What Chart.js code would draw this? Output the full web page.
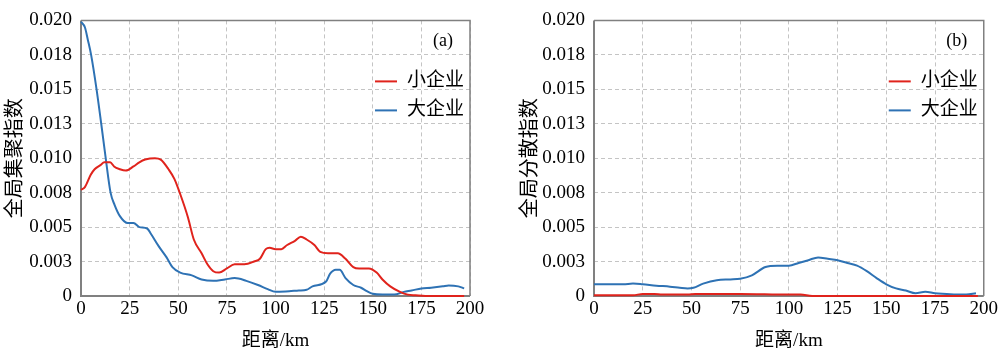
<!DOCTYPE html>
<html>
<head>
<meta charset="utf-8">
<script src="https://cdn.jsdelivr.net/npm/chart.js@4.4.1/dist/chart.umd.min.js"></script>
<style>
  html, body { margin: 0; padding: 0; background: #fff; }
  .row { display: flex; width: 1000px; height: 352px; }
  canvas { display: block; }
</style>
</head>
<body>
<div class="row">
  <canvas id="chartA" width="500" height="352"></canvas>
  <canvas id="chartB" width="500" height="352"></canvas>
</div>
<script>
// (a) agglomeration index
const aggSmallDist = [0, 2, 5, 7, 10, 12, 15, 17, 20, 23, 27, 30, 33, 38, 41, 45, 48, 51, 55, 58, 62, 65, 68, 71, 75, 79, 84, 89, 92, 95, 97, 100, 103, 106, 110, 113, 116, 120, 123, 127, 132, 136, 140, 143, 148, 152, 155, 159, 164, 168, 172, 177, 185, 197];
const aggSmall = [0.0077, 0.0079, 0.0088, 0.0092, 0.0095, 0.0097, 0.0097, 0.0094, 0.0092, 0.0091, 0.0094, 0.0097, 0.0099, 0.0100, 0.0099, 0.0092, 0.0085, 0.0074, 0.0057, 0.0041, 0.0031, 0.0023, 0.0018, 0.0017, 0.0020, 0.0023, 0.0023, 0.0025, 0.0027, 0.0034, 0.0035, 0.0034, 0.0034, 0.0037, 0.0040, 0.0043, 0.0041, 0.0037, 0.0032, 0.0031, 0.0031, 0.0027, 0.0021, 0.0020, 0.0020, 0.0017, 0.0012, 0.0007, 0.0003, 0.0001, 0.00005, 0, 0, 0];
const aggLargeDist = [0, 2, 3.5, 5.2, 8, 10.4, 12.7, 15.2, 17.3, 20, 24, 27, 30, 34, 36, 40, 44, 47, 51, 57, 62, 68, 74, 79, 85, 91, 96, 100, 107, 112, 116, 119, 126, 128, 131, 133, 136, 140, 144, 147, 150, 155, 161, 166, 170, 175, 180, 186, 189, 194, 197];
const aggLarge = [0.0199, 0.0195, 0.0186, 0.0175, 0.0150, 0.0125, 0.0100, 0.0075, 0.0066, 0.0058, 0.0053, 0.0053, 0.0050, 0.0049, 0.0045, 0.0036, 0.0028, 0.0021, 0.0017, 0.0015, 0.0012, 0.0011, 0.0012, 0.0013, 0.0011, 0.0008, 0.0005, 0.0003, 0.00035, 0.0004, 0.00045, 0.0007, 0.00105, 0.0016, 0.0019, 0.0019, 0.0013, 0.0008, 0.0006, 0.00035, 0.00016, 0.0001, 0.0001, 0.0003, 0.0004, 0.00055, 0.0006, 0.0007, 0.00077, 0.0007, 0.00055];

// (b) dispersion index
const dispSmallDist = [0, 20, 25, 31, 35, 48, 52, 75, 100, 106, 112, 150, 197];
const dispSmall = [0.00005, 0.00005, 0.00015, 0.00015, 0.0001, 0.0001, 0.00015, 0.00015, 0.0001, 0.0001, 0, 0, 0];
const dispLargeDist = [0, 8, 15, 20, 25, 32, 39, 44, 48, 51, 56, 63, 70, 75, 81, 88, 94, 100, 105, 110, 115, 120, 125, 130, 135, 140, 145, 150, 155, 160, 165, 170, 175, 181, 186, 191, 196];
const dispLarge = [0.00085, 0.00085, 0.00085, 0.0009, 0.00085, 0.00075, 0.00068, 0.0006, 0.00055, 0.0006, 0.0009, 0.00115, 0.0012, 0.00125, 0.0015, 0.0021, 0.0022, 0.0022, 0.0024, 0.0026, 0.0028, 0.0027, 0.0026, 0.0024, 0.0022, 0.0018, 0.0013, 0.00085, 0.00055, 0.0004, 0.0002, 0.0003, 0.0002, 0.00015, 0.0001, 0.0001, 0.0002];

const seriesNames = ['小企业', '大企业'];
const yTickLabels = ['0', '0.003', '0.005', '0.008', '0.010', '0.013', '0.015', '0.018', '0.020'];
const xTitle = '距离/km';

const RED = '#e0231c';
const BLUE = '#2e72b4';
const FONT = '"Liberation Serif", "Noto Sans CJK SC", serif';

Chart.defaults.font.family = FONT;
Chart.defaults.color = '#000';

function pts(xs, ys) {
  return xs.map((x, i) => ({ x: x, y: ys[i] }));
}

// plot frame under the lines, legend + panel tag on top
const framePlugin = {
  id: 'frame',
  beforeDatasetsDraw(chart) {
    const a = chart.chartArea;
    const ctx = chart.ctx;
    ctx.save();
    ctx.strokeStyle = '#808080';
    ctx.lineWidth = 1.5;
    ctx.beginPath();
    ctx.moveTo(a.left, a.top);
    ctx.lineTo(a.right, a.top);
    ctx.lineTo(a.right, a.bottom);
    ctx.stroke();
    ctx.lineWidth = 2;
    ctx.beginPath();
    ctx.moveTo(a.left, a.top);
    ctx.lineTo(a.left, a.bottom);
    ctx.lineTo(a.right, a.bottom);
    ctx.stroke();
    ctx.restore();
  },
  afterDraw(chart, args, opts) {
    const a = chart.chartArea;
    const ctx = chart.ctx;
    ctx.save();
    ctx.font = '19px ' + FONT;
    ctx.textBaseline = 'middle';
    ctx.fillStyle = '#000';
    chart.data.datasets.forEach((ds, i) => {
      const y = a.top + 61 + i * 29;
      ctx.strokeStyle = ds.borderColor;
      ctx.lineWidth = 2;
      ctx.beginPath();
      ctx.moveTo(a.right - 95, y);
      ctx.lineTo(a.right - 73, y);
      ctx.stroke();
      ctx.textAlign = 'left';
      ctx.fillText(ds.label, a.right - 63, y);
    });
    ctx.font = '18px ' + FONT;
    ctx.textAlign = 'center';
    ctx.fillText(opts.tag, a.right - 27, a.top + 21);
    ctx.restore();
  }
};

function makeChart(id, small, large, yTitle, tag, yWidth, rightPad, titlePad) {
  return new Chart(document.getElementById(id), {
    type: 'line',
    data: {
      datasets: [
        { label: seriesNames[0], data: small, borderColor: RED, borderWidth: 2, pointRadius: 0, cubicInterpolationMode: 'monotone', clip: 3 },
        { label: seriesNames[1], data: large, borderColor: BLUE, borderWidth: 2, pointRadius: 0, cubicInterpolationMode: 'monotone', clip: 3 }
      ]
    },
    options: {
      responsive: false,
      animation: false,
      layout: { padding: { top: 8, right: rightPad, left: 0, bottom: 0 } },
      plugins: {
        legend: { display: false },
        tooltip: { enabled: false },
        frame: { tag: tag }
      },
      scales: {
        x: {
          type: 'linear', min: 0, max: 200,
          ticks: { stepSize: 25, padding: 2, font: { size: 19 }, color: '#000' },
          grid: { color: '#c4c4c4', drawTicks: false },
          border: { display: false, dash: [4, 3] },
          title: { display: true, text: xTitle, font: { size: 19 }, color: '#000', padding: { top: 0, bottom: 0 } },
          afterFit(s) { s.height = 56; }
        },
        y: {
          type: 'linear', min: 0, max: 0.02,
          ticks: { stepSize: 0.0025, padding: 9, font: { size: 19 }, color: '#000', callback: (v, i) => yTickLabels[i] },
          grid: { color: '#c4c4c4', drawTicks: false },
          border: { display: false, dash: [4, 3] },
          title: { display: true, text: yTitle, font: { size: 20 }, color: '#000', padding: { top: titlePad, bottom: 0 } },
          afterFit(s) { s.width = yWidth; }
        }
      }
    },
    plugins: [framePlugin]
  });
}

makeChart('chartA', pts(aggSmallDist, aggSmall), pts(aggLargeDist, aggLarge), '全局集聚指数', '(a)', 81, 30, 4);
makeChart('chartB', pts(dispSmallDist, dispSmall), pts(dispLargeDist, dispLarge), '全局分散指数', '(b)', 94, 15, 19);
</script>
</body>
</html>
